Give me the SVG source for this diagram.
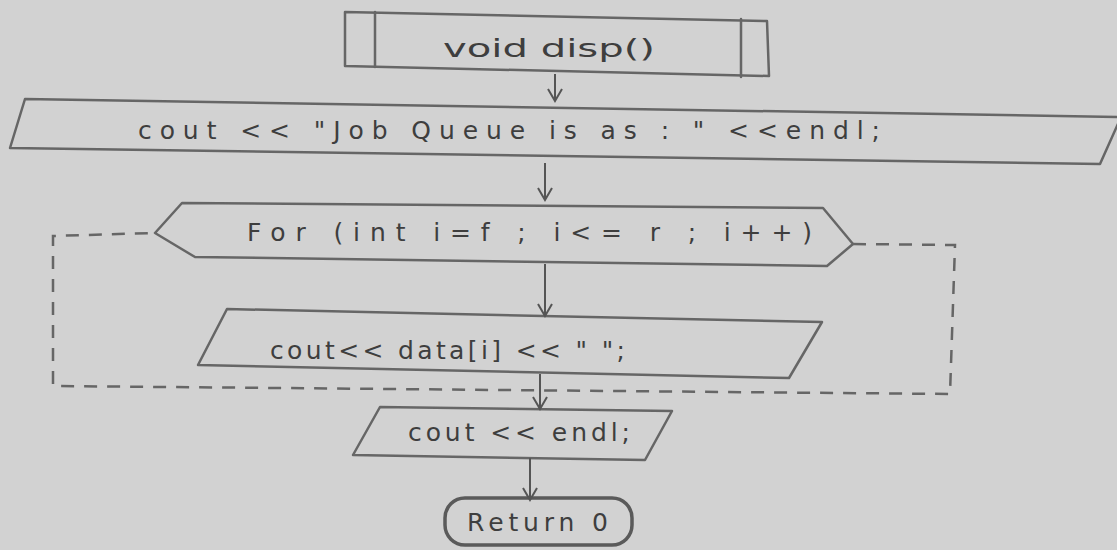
<svg xmlns="http://www.w3.org/2000/svg" width="1117" height="550" viewBox="0 0 1117 550">
<style>
.bg{fill:#d2d2d2}
.sh{fill:none;stroke:#666;stroke-width:2.5;stroke-linejoin:round;stroke-linecap:round}
.term{fill:none;stroke:#5a5a5a;stroke-width:3.5}
.t{font-family:"DejaVu Sans","Liberation Sans",sans-serif;fill:#3e3e3e;font-size:25px}
.c{fill:none;stroke:#555;stroke-width:2}
.d{fill:none;stroke:#666;stroke-width:2.5;stroke-dasharray:13 10}
</style>
<defs>
<marker id="ah" markerUnits="userSpaceOnUse" markerWidth="16" markerHeight="16" viewBox="0 0 16 16" refX="14" refY="8" orient="auto">
<path d="M2,1 L14,8 L2,15" fill="none" stroke="#555" stroke-width="2"/>
</marker>
</defs>
<rect class="bg" x="0" y="0" width="1117" height="550"/>

<g id="start">
<polygon class="sh" points="345,12 767,21 769,76 345,66"/>
<line class="sh" x1="375" y1="12" x2="375" y2="67"/>
<line class="sh" x1="741" y1="19" x2="741" y2="77"/>
<text class="t" x="443" y="57" font-size="26" textLength="212" lengthAdjust="spacingAndGlyphs">void disp()</text>
</g>

<g id="print-header">
<polygon class="sh" points="25,99 1121,117 1100,164 10,148"/>
<text class="t" x="138" y="139" textLength="742" lengthAdjust="spacing">cout &lt;&lt; "Job Queue is as : " &lt;&lt;endl;</text>
</g>

<g id="loop">
<polygon class="sh" points="155,233 182,203 823,208 853,244 827,266 195,257"/>
<text class="t" x="247" y="241" textLength="565" lengthAdjust="spacing">For (int i=f ; i&lt;= r ; i++)</text>
</g>

<g id="print-data">
<polygon class="sh" points="227,309 822,322 789,378 198,365"/>
<text class="t" x="270" y="359" textLength="355" lengthAdjust="spacing">cout&lt;&lt; data[i] &lt;&lt; "  ";</text>
</g>

<g id="print-endl">
<polygon class="sh" points="380,407 672,411 645,460 353,455"/>
<text class="t" x="408" y="441" textLength="222" lengthAdjust="spacing">cout &lt;&lt; endl;</text>
</g>

<g id="end">
<rect class="term" x="445" y="498" width="187" height="47" rx="20" ry="20"/>
<text class="t" x="467" y="531" textLength="141" lengthAdjust="spacing">Return 0</text>
</g>

<g id="connectors">
<line class="c" x1="555" y1="74" x2="555" y2="101" marker-end="url(#ah)"/>
<line class="c" x1="545" y1="163" x2="545" y2="200" marker-end="url(#ah)"/>
<line class="c" x1="545" y1="264" x2="545" y2="316" marker-end="url(#ah)"/>
<line class="c" x1="540" y1="374" x2="540" y2="409" marker-end="url(#ah)"/>
<line class="c" x1="530" y1="458" x2="530" y2="500" marker-end="url(#ah)"/>
<polyline class="d" points="853,244 955,245 950,394 53,386 53,236 153,233"/>
</g>
</svg>
